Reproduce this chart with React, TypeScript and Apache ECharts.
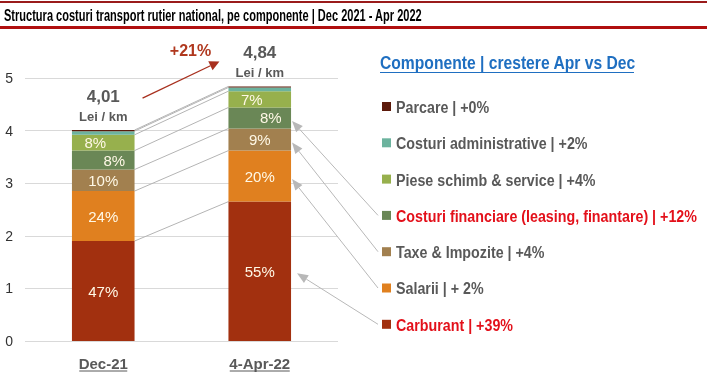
import React, { useEffect, useRef } from "react";
import * as echarts from "echarts";

const categories = ["Dec-21", "4-Apr-22"];
const seriesNames = [
  "Carburant",
  "Salarii",
  "Taxe & Impozite",
  "Costuri financiare (leasing, finantare)",
  "Piese schimb & service",
  "Costuri administrative",
  "Parcare",
];
const growthLabels = ["+39%", "+ 2%", "+4%", "+12%", "+4%", "+2%", "+0%"];
const highlighted = [true, false, false, true, false, false, false];
const decValues = [1.9, 0.95, 0.41, 0.36, 0.3, 0.07, 0.02];
const aprValues = [2.65, 0.97, 0.42, 0.4, 0.31, 0.07, 0.02];
const decShares = ["47%", "24%", "10%", "8%", "8%", "", ""];
const aprShares = ["55%", "20%", "9%", "8%", "7%", "", ""];
const totals = ["4,01", "4,84"];
const totalUnit = "Lei / km";
const totalGrowth = "+21%";
const yMin = 0;
const yMax = 5;
const yInterval = 1;
const titleText = "Structura costuri transport rutier national, pe componente | Dec 2021 - Apr 2022";
const legendTitle = "Componente | crestere Apr vs Dec";

const colors = ["#A2300F", "#E0801F", "#A2804F", "#6A8756", "#97B04D", "#6CB39E", "#5C1A0B"];
const labelOffsets: number[][] = [[0, 0], [0, 0], [0, 0], [11, 0], [-8, 0], [0, 0], [0, 0]];
const FONT = "'Liberation Sans', Arial, sans-serif";

function arrow(x1: number, y1: number, x2: number, y2: number, color: string, w: number, hl: number, hw: number) {
  const dx = x2 - x1;
  const dy = y2 - y1;
  const len = Math.sqrt(dx * dx + dy * dy);
  const ux = dx / len;
  const uy = dy / len;
  const bx = x2 - ux * hl;
  const by = y2 - uy * hl;
  const px = (-uy * hw) / 2;
  const py = (ux * hw) / 2;
  return [
    { type: "line", shape: { x1, y1, x2: bx, y2: by }, style: { stroke: color, lineWidth: w }, silent: true },
    {
      type: "polygon",
      shape: { points: [[x2, y2], [bx + px, by + py], [bx - px, by - py]] },
      style: { fill: color },
      silent: true,
    },
  ];
}

export default function App() {
  const ref = useRef<HTMLDivElement>(null);
  useEffect(() => {
    if (!ref.current) return;
    const chart = echarts.init(ref.current, null, { renderer: "svg" });

    const cumDec: number[] = [];
    const cumApr: number[] = [];
    let a = 0;
    let b = 0;
    for (let i = 0; i < seriesNames.length; i++) {
      a += decValues[i];
      b += aprValues[i];
      cumDec.push(a);
      cumApr.push(b);
    }

    const barSeries = seriesNames.map((name, i) => ({
      name,
      type: "bar",
      stack: "total",
      barWidth: "40%",
      itemStyle: { color: colors[i] },
      data: [decValues[i], aprValues[i]],
      label: {
        show: true,
        position: "inside",
        offset: labelOffsets[i],
        color: "#FFF8E6",
        fontFamily: FONT,
        fontSize: 15,
        formatter: (p: any) => (p.dataIndex === 0 ? decShares[i] : aprShares[i]),
      },
      emphasis: { disabled: true },
    }));
    const last = barSeries[barSeries.length - 1] as any;
    last.label = {
      show: true,
      position: "top",
      distance: 5,
      fontFamily: FONT,
      formatter: (p: any) => `{t|${totals[p.dataIndex]}}\n{u|${totalUnit}}`,
      rich: {
        t: { fontSize: 17, fontWeight: "bold", color: "#595959", lineHeight: 21, fontFamily: FONT },
        u: { fontSize: 13, fontWeight: "bold", color: "#595959", lineHeight: 18, fontFamily: FONT },
      },
    };

    const connector = {
      type: "custom",
      name: "connectors",
      silent: true,
      z: 1,
      encode: { x: 0, y: 1 },
      data: cumDec.map((v, i) => [0, v, cumApr[i]]),
      renderItem: (params: any, api: any) => {
        const p1 = api.coord([0, api.value(1)]);
        const p2 = api.coord([1, api.value(2)]);
        const half = api.size([1, 0])[0] * 0.2;
        return {
          type: "line",
          shape: { x1: p1[0] + half, y1: p1[1], x2: p2[0] - half, y2: p2[1] },
          style: { stroke: "#B4B4B4", lineWidth: 1 },
        };
      },
    };

    const legendNames = seriesNames.slice().reverse();

    chart.setOption({
      animation: false,
      textStyle: { fontFamily: FONT },
      grid: { left: 25, right: 369, top: 78, bottom: 35 },
      xAxis: {
        type: "category",
        data: categories,
        axisLine: { show: false },
        axisTick: { show: false },
        axisLabel: { margin: 15, fontSize: 15, fontWeight: "bold", color: "#595959", fontFamily: FONT },
      },
      yAxis: {
        type: "value",
        min: yMin,
        max: yMax,
        interval: yInterval,
        axisLabel: { margin: 12, fontSize: 14, color: "#333333", fontFamily: FONT },
        splitLine: { lineStyle: { color: "#D9D9D9", width: 1 } },
      },
      series: [connector, ...barSeries],
    });

    const grid = { gridIndex: 0 } as any;
    const decTop = chart.convertToPixel(grid, [0, cumDec[cumDec.length - 1]]) as number[];
    const aprTop = chart.convertToPixel(grid, [1, cumApr[cumApr.length - 1]]) as number[];
    const half = ((aprTop[0] - decTop[0]) * 0.4) / 2;
    const bottom = chart.convertToPixel(grid, [0, 0]) as number[];

    const graphics: any[] = [];
    // title bar
    graphics.push({ type: "rect", shape: { x: 0, y: 1, width: 707, height: 2 }, style: { fill: "#9A1B1B" }, silent: true });
    graphics.push({ type: "rect", shape: { x: 0, y: 26, width: 707, height: 3 }, style: { fill: "#B00F0F" }, silent: true });
    graphics.push({
      type: "text",
      x: 4,
      y: 16,
      scaleX: 0.69,
      style: { text: titleText, font: `bold 16px ${FONT}`, fill: "#000", verticalAlign: "middle" },
      silent: true,
    });
    // legend title
    graphics.push({
      type: "text",
      x: 380,
      y: 63,
      scaleX: 0.87,
      style: { text: legendTitle, font: `bold 18px ${FONT}`, fill: "#1F6FC1", verticalAlign: "middle" },
      silent: true,
    });
    graphics.push({ type: "line", shape: { x1: 380, y1: 72.5, x2: 634, y2: 72.5 }, style: { stroke: "#1F6FC1", lineWidth: 1 }, silent: true });
    // legend items
    const legendY0 = 106.5;
    const legendStep = 36.3;
    legendNames.forEach((name, k) => {
      const i = seriesNames.indexOf(name);
      const y = legendY0 + k * legendStep;
      graphics.push({ type: "rect", shape: { x: 382, y: y - 4.5, width: 9, height: 9 }, style: { fill: colors[i] }, silent: true });
      graphics.push({
        type: "text",
        x: 396,
        y: y + 0.5,
        scaleX: 0.84,
        style: {
          text: `${name} | ${growthLabels[i]}`,
          font: `bold 17px ${FONT}`,
          fill: highlighted[i] ? "#E3101A" : "#595959",
          verticalAlign: "middle",
        },
        silent: true,
      });
    });
    // x label underlines
    const ulHalf = [24, 30];
    categories.forEach((c, i) => {
      const p = chart.convertToPixel(grid, [i, 0]) as number[];
      graphics.push({
        type: "line",
        shape: { x1: p[0] - ulHalf[i], y1: bottom[1] + 30, x2: p[0] + ulHalf[i], y2: bottom[1] + 30 },
        style: { stroke: "#595959", lineWidth: 1 },
        silent: true,
      });
    });
    // growth arrow and label
    graphics.push(...arrow(decTop[0] + half + 8, decTop[1] - 32, aprTop[0] - half - 9, aprTop[1] - 25, "#A8301E", 1.3, 10, 10));
    graphics.push({
      type: "text",
      x: (decTop[0] + aprTop[0]) / 2 + 9,
      y: aprTop[1] - 36,
      style: { text: totalGrowth, font: `bold 16px ${FONT}`, fill: "#B0381E", align: "center", verticalAlign: "middle" },
      silent: true,
    });
    // legend arrows: from legend markers to Apr segments
    [0, 1, 2, 3].forEach((si) => {
      const lower = si === 0 ? 0 : cumApr[si - 1];
      const mid = (lower + cumApr[si]) / 2;
      const p = chart.convertToPixel(grid, [1, mid]) as number[];
      const k = legendNames.indexOf(seriesNames[si]);
      const ly = legendY0 + k * legendStep;
      graphics.push(...arrow(378, ly, p[0] + half + (si === 0 ? 6 : 1), p[1] + (si === 0 ? 2 : 3), "#B8B8B8", 1, 11, 9));
    });

    chart.setOption({ graphic: graphics });

    return () => chart.dispose();
  }, []);
  return <div ref={ref} style={{ position: "fixed", left: 0, top: 0, width: 707, height: 376 }} />;
}
